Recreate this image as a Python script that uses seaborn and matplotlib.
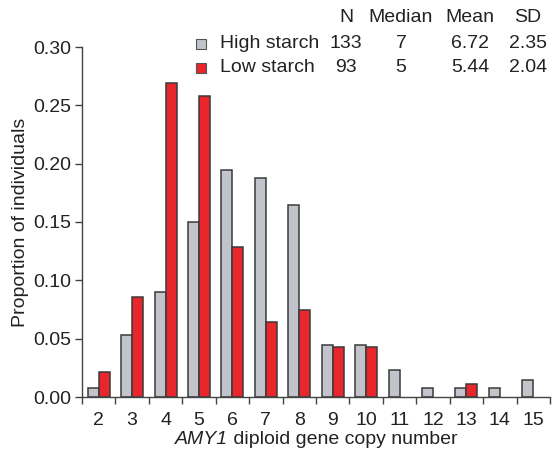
import numpy as np
import pandas as pd
import matplotlib
matplotlib.use("Agg")
import matplotlib.pyplot as plt
import seaborn as sns
from matplotlib.patches import Rectangle

# copy number categories
copy_numbers = [2, 3, 4, 5, 6, 7, 8, 9, 10, 11, 12, 13, 14, 15]

# proportion of individuals
high_starch = [0.0075, 0.053, 0.090, 0.150, 0.195, 0.188, 0.165,
               0.045, 0.045, 0.023, 0.0075, 0.0075, 0.0075, 0.015]
low_starch = [0.0215, 0.086, 0.269, 0.258, 0.129, 0.0645, 0.075,
              0.043, 0.043, np.nan, np.nan, 0.0108, np.nan, np.nan]

groups = ["High starch", "Low starch"]
stats_header = ["N", "Median", "Mean", "SD"]
stats_rows = [["133", "7", "6.72", "2.35"],
              ["93", "5", "5.44", "2.04"]]
colors = ["#c1c4ca", "#e8262b"]

sns.set_style("ticks")
plt.rcParams["font.family"] = ["Liberation Sans", "DejaVu Sans"]
FS = 14
TXT = "#222222"

df = pd.DataFrame({
    "copy": [str(c) for c in copy_numbers] * 2,
    "group": [groups[0]] * len(copy_numbers) + [groups[1]] * len(copy_numbers),
    "prop": high_starch + low_starch,
}).dropna()

W, H = 557, 455
fig = plt.figure(figsize=(W / 100, H / 100), dpi=100)
ax = fig.add_axes([82 / W, 58 / H, 468 / W, 350 / H])

sns.barplot(data=df, x="copy", y="prop", hue="group",
            order=[str(c) for c in copy_numbers], hue_order=groups,
            palette=colors, saturation=1, width=0.66, gap=0, dodge=True,
            edgecolor="#3a3a3a", linewidth=1.1, legend=False, ax=ax)

ax.set_xlim(-0.5, len(copy_numbers) - 0.5)
ax.set_ylim(0, 0.30)
ax.set_yticks(np.arange(0, 0.31, 0.05))
ax.set_yticklabels([f"{v:.2f}" for v in np.arange(0, 0.31, 0.05)])

# ticks at the bin boundaries, labels in the middle
ax.set_xticks(np.arange(-0.5, len(copy_numbers), 1.0))
ax.set_xticklabels([])
ax.set_xticks(np.arange(len(copy_numbers)), minor=True)
ax.set_xticklabels([str(c) for c in copy_numbers], minor=True)
ax.tick_params(axis="x", which="minor", length=0, pad=11)
ax.tick_params(axis="y", which="major", pad=3)
ax.tick_params(axis="both", which="major", length=5, width=1, color="#444444")
ax.tick_params(axis="both", which="both", labelsize=FS, labelcolor=TXT)

sns.despine(ax=ax)
for s in ["left", "bottom"]:
    ax.spines[s].set_color("#444444")
    ax.spines[s].set_linewidth(1)

ax.set_ylabel("Proportion of individuals", fontsize=FS, color=TXT, labelpad=3)
ax.set_xlabel("")

# x label: italic gene name followed by plain text
xl_y = 1 - 440 / H
t1 = fig.text(0, xl_y, "AMY1", style="italic", fontsize=FS, color=TXT,
              ha="left", va="center")
t2 = fig.text(0, xl_y, " diploid gene copy number", fontsize=FS, color=TXT,
              ha="left", va="center")
fig.canvas.draw()
r = fig.canvas.get_renderer()
w1 = t1.get_window_extent(r).width
w2 = t2.get_window_extent(r).width
x0 = (82 + 468 / 2) - (w1 + w2) / 2
t1.set_x(x0 / W)
t2.set_x((x0 + w1) / W)

# stats table legend
col_x = [346, 401, 470, 528]
row_y = [18, 44, 68]
for x, t in zip(col_x, stats_header):
    fig.text(x / W, 1 - row_y[0] / H, t, ha="center", va="center", fontsize=FS, color=TXT)
for i, (g, vals) in enumerate(zip(groups, stats_rows)):
    y = row_y[i + 1]
    fig.patches.append(Rectangle((196 / W, 1 - (y + 5) / H), 10 / W, 10 / H,
                                 transform=fig.transFigure, facecolor=colors[i],
                                 edgecolor="#555555", linewidth=0.8))
    fig.text(220 / W, 1 - y / H, g, ha="left", va="center", fontsize=FS, color=TXT)
    for x, v in zip(col_x, vals):
        fig.text(x / W, 1 - y / H, v, ha="center", va="center", fontsize=FS, color=TXT)

fig.savefig("out.png", dpi=100)
